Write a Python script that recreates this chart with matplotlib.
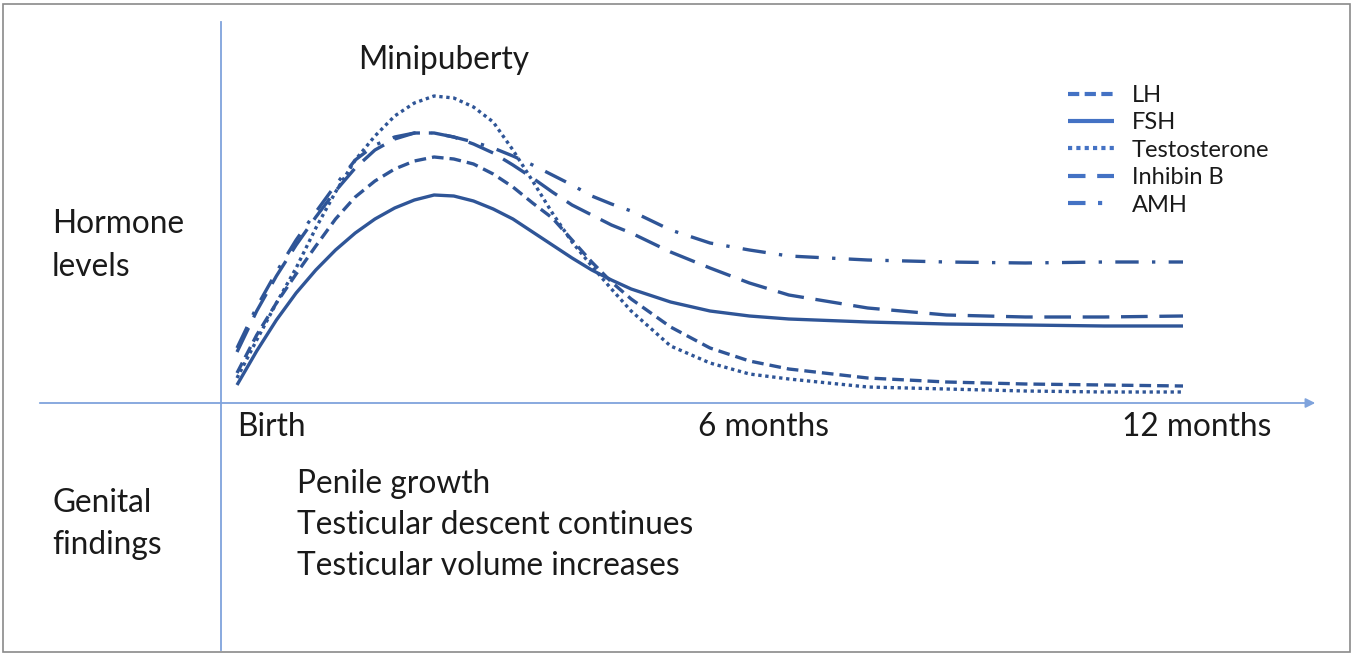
import matplotlib.pyplot as plt
from matplotlib.lines import Line2D
from matplotlib.patches import Rectangle

# Values (arbitrary hormone level units)
months = [0, 0.25, 0.5, 0.75, 1, 1.25, 1.5, 1.75, 2, 2.25, 2.5, 2.75, 3, 3.25, 3.5,
          3.75, 4, 4.25, 4.5, 4.75, 5, 5.5, 6, 6.5, 7, 8, 9, 10, 11, 12]
lh = [30, 68, 100, 129, 157, 184, 206, 222, 234, 242, 246, 244, 239, 229, 216,
      200, 185, 163, 141, 121, 104, 76, 55, 42, 34, 25, 21, 19, 18, 17]
fsh = [18, 52, 83, 110, 133, 153, 170, 184, 195, 203, 208, 207, 202, 194, 184,
       171, 158, 145, 133, 123, 114, 101, 92, 87, 84, 81, 79, 78, 77, 77]
testosterone = [25, 63, 100, 135, 175, 211, 243, 267, 287, 300, 307, 305, 296, 281, 253,
                222, 190, 161, 137, 114, 92, 57, 40, 29, 24, 16, 14, 12, 11, 11]
inhibin_b = [51, 92, 127, 158, 186, 212, 235, 253, 264, 270, 270, 266, 259, 250, 238,
             225, 211, 198, 188, 178, 170, 151, 135, 120, 108, 95, 88, 86, 86, 87]
amh = [55, 96, 131, 163, 191, 218, 243, 258, 266, 270, 270, 266, 261, 255, 247,
       238, 228, 218, 207, 199, 192, 173, 160, 153, 147, 143, 141, 140, 141, 141]

series_names = ['LH', 'FSH', 'Testosterone', 'Inhibin B', 'AMH']
time_labels = ['Birth', '6 months', '12 months']
genital_findings = ['Penile growth', 'Testicular descent continues', 'Testicular volume increases']

plt.rcParams['font.family'] = ['Lato', 'DejaVu Sans']

W, H = 1357, 656
fig = plt.figure(figsize=(W / 100, H / 100), dpi=100)
ax = fig.add_axes([0, 0, 1, 1])

# map months / levels onto the picture layout
birth_px, year_px, base_py = 237, 1183, 403
px_per_month = (year_px - birth_px) / 12
ax.set_xlim(-birth_px / px_per_month, (W - birth_px) / px_per_month)
ax.set_ylim(base_py - H, base_py)
ax.axis('off')

def fx(px):
    return px / W

def fy(py):
    return 1 - py / H

curve_col = '#2F5597'
legend_col = '#4472C4'
axis_col = '#7FA3DC'
text_col = '#1a1a1a'
lw = 2.4

styles = [(0, (3.5, 1.8)), '-', (0, (1, 1.1)), (0, (8, 3.5)), (0, (7, 4, 1, 4))]
data = [lh, fsh, testosterone, inhibin_b, amh]
for vals, ls in zip(data, styles):
    ax.plot(months, vals, color=curve_col, lw=lw, linestyle=ls,
            solid_capstyle='butt', solid_joinstyle='round')

# axes of the schematic
fig.add_artist(Line2D([fx(221), fx(221)], [fy(650), fy(22)], color=axis_col, lw=1.3))
ax.annotate('', xy=(fx(1318), fy(base_py)), xytext=(fx(37), fy(base_py)),
            xycoords='figure fraction', textcoords='figure fraction',
            arrowprops=dict(arrowstyle='-|>', color=axis_col, lw=1.3, mutation_scale=14))

# outer frame
fig.add_artist(Rectangle((fx(3), fy(652)), fx(1350) - fx(3), fy(4) - fy(652),
                         fill=False, edgecolor='#8a8a8a', lw=1.2))

fs = 22.8
fig.text(fx(358), fy(60), 'Minipuberty', fontsize=fs, color=text_col, va='center')
fig.text(fx(52), fy(224), 'Hormone', fontsize=fs, color=text_col, va='center')
fig.text(fx(52), fy(267), 'levels', fontsize=fs, color=text_col, va='center')
fig.text(fx(52), fy(503), 'Genital', fontsize=fs, color=text_col, va='center')
fig.text(fx(52), fy(545), 'findings', fontsize=fs, color=text_col, va='center')

for lbl, px in zip(time_labels, [237, 698, 1122]):
    fig.text(fx(px), fy(427), lbl, fontsize=fs, color=text_col, va='center')

for i, lbl in enumerate(genital_findings):
    fig.text(fx(297), fy(484 + 41 * i), lbl, fontsize=fs, color=text_col, va='center')

legend_styles = [(0, (2.7, 1.3)), '-', (0, (1, 1)), (0, (4.2, 2.8)), (0, (4.2, 3, 1, 3))]
handles = [Line2D([], [], color=legend_col, lw=3, linestyle=ls, solid_capstyle='butt')
           for ls in legend_styles]
leg = fig.legend(handles, series_names, loc='upper left', bbox_to_anchor=(fx(1068), fy(85)),
                 frameon=False, fontsize=17, handlelength=1.95, handletextpad=0.75,
                 labelspacing=0.27, borderaxespad=0, borderpad=0)
for t in leg.get_texts():
    t.set_color(text_col)

fig.savefig('out.png', dpi=100, facecolor='white')
